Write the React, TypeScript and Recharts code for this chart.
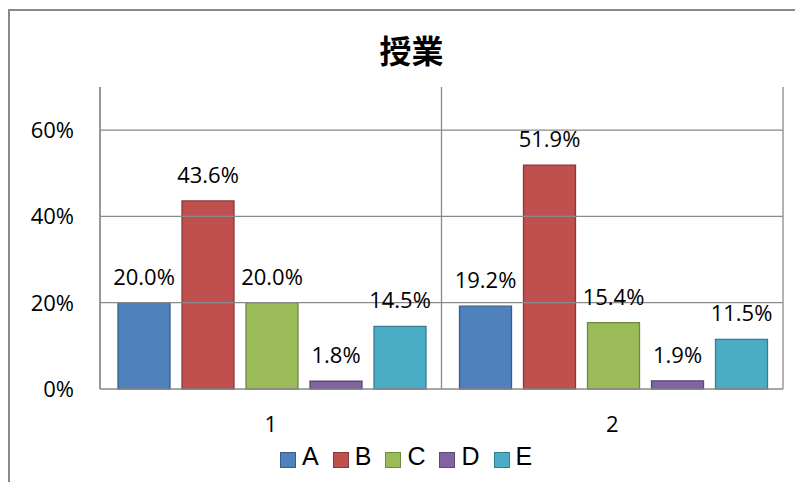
import React from "react";
import { BarChart, Bar, XAxis, YAxis, CartesianGrid, LabelList, ReferenceLine } from "recharts";

// ── data ─────────────────────────────────────────────────────────────────────
const categories = ["1", "2"];
const seriesNames = ["A", "B", "C", "D", "E"];
const valuesA = [0.2, 0.192];
const valuesB = [0.436, 0.519];
const valuesC = [0.2, 0.154];
const valuesD = [0.018, 0.019];
const valuesE = [0.145, 0.115];
const yTicks = [0, 0.2, 0.4, 0.6];
const title = "授業";

const seriesValues = [valuesA, valuesB, valuesC, valuesD, valuesE];
const fills = ["#4F81BD", "#C0504D", "#9BBB59", "#8064A2", "#4BACC6"];
const strokes = ["#385D8A", "#8C3836", "#71893F", "#5C4776", "#357D91"];

const data = categories.map((c, i) => {
  const row: Record<string, string | number> = { name: c };
  seriesNames.forEach((s, j) => {
    row[s] = seriesValues[j][i];
  });
  return row;
});

const GRID = "#8a8a8a";
const LABEL_FONT = "'Open Sans', sans-serif";
const pct1 = (v: number) => `${(v * 100).toFixed(1)}%`;

export default function App() {
  return (
    <div
      style={{
        position: "relative",
        top: 1,
        width: 795,
        height: 474,
        boxSizing: "border-box",
        borderTop: `2px solid ${GRID}`,
        borderLeft: `2px solid ${GRID}`,
        overflow: "hidden",
        background: "#fff",
      }}
    >
      <div
        style={{
          position: "absolute",
          top: 22,
          left: 0,
          width: 803,
          textAlign: "center",
          fontFamily: "'Noto Sans CJK JP', sans-serif",
          fontWeight: 700,
          fontSize: 32,
          lineHeight: "32px",
          color: "#000",
        }}
      >
        {title}
      </div>

      <BarChart
        width={800}
        height={470}
        data={data}
        margin={{ top: 76, right: 27, bottom: 62, left: 0 }}
        barCategoryGap={18}
        barGap={12}
      >
        {/* vertical lines at category boundaries only */}
        <CartesianGrid
          horizontal={false}
          stroke={GRID}
          strokeWidth={1.3}
          verticalCoordinatesGenerator={({ offset }: any) =>
            [0, 1, 2].map((i) => offset.left + (i * offset.width) / categories.length)
          }
        />
        {/* horizontal gridlines at the y ticks, none at the 70% top */}
        {yTicks.slice(1).map((t) => (
          <ReferenceLine key={t} y={t} stroke={GRID} strokeWidth={1.3} />
        ))}
        <XAxis
          dataKey="name"
          height={30}
          tickLine={false}
          tickSize={0}
          tickMargin={27}
          axisLine={{ stroke: GRID, strokeWidth: 1.3 }}
          tick={{ fontFamily: LABEL_FONT, fontSize: 22, fill: "#000" }}
        />
        <YAxis
          width={90}
          domain={[0, 0.7]}
          ticks={yTicks}
          tickFormatter={(v: number) => `${Math.round(v * 100)}%`}
          tickLine={false}
          tickSize={0}
          tickMargin={26}
          axisLine={{ stroke: GRID, strokeWidth: 1.3 }}
          tick={{ fontFamily: LABEL_FONT, fontSize: 22, fill: "#000" }}
        />
        {seriesNames.map((s, j) => (
          <Bar
            key={s}
            dataKey={s}
            fill={fills[j]}
            stroke={strokes[j]}
            strokeWidth={1.3}
            isAnimationActive={false}
          >
            <LabelList
              dataKey={s}
              position="top"
              offset={18}
              formatter={(v: any) => pct1(Number(v))}
              style={{ fontFamily: LABEL_FONT, fontSize: 22, fill: "#000" }}
            />
          </Bar>
        ))}
      </BarChart>

      <div
        style={{
          position: "absolute",
          left: 270,
          top: 436,
          display: "flex",
          alignItems: "center",
          height: 25,
        }}
      >
        {seriesNames.map((s, j) => (
          <div key={s} style={{ display: "flex", alignItems: "center", marginRight: 14 }}>
            <div
              style={{
                width: 16,
                height: 16,
                boxSizing: "border-box",
                background: fills[j],
                border: `1.5px solid ${strokes[j]}`,
                marginRight: 6,
              }}
            />
            <span
              style={{
                position: "relative",
                top: -3,
                fontFamily: "'Liberation Sans', Arial, sans-serif",
                fontSize: 25,
                lineHeight: "25px",
                color: "#000",
              }}
            >
              {s}
            </span>
          </div>
        ))}
      </div>
    </div>
  );
}
